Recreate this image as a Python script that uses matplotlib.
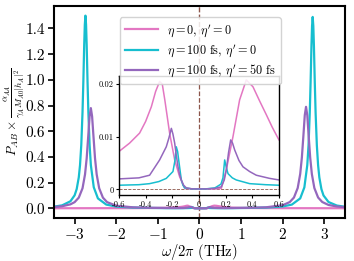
import numpy as np
import matplotlib
matplotlib.use("Agg")
import matplotlib.pyplot as plt

plt.rcParams['font.family'] = 'serif'
plt.rcParams['font.serif'] = ['cmr10']
plt.rcParams['mathtext.fontset'] = 'cm'
plt.rcParams['axes.formatter.use_mathtext'] = True

# --- data ---
pink_x = [-3.5, -3.0, -2.5, -2.0, -1.5, -1.0, -0.8, -0.6, -0.52, -0.445, -0.4, -0.357,
          -0.325, -0.295, -0.275, -0.256, -0.22, -0.182, -0.145, -0.107, -0.05, 0.0,
          0.05, 0.12, 0.168, 0.205, 0.255, 0.305, 0.355, 0.405, 0.455, 0.505, 0.55,
          0.6, 0.8, 1.0, 1.5, 2.0, 2.5, 3.0, 3.5]
pink_y = [0.0005, 0.0006, 0.0008, 0.0010, 0.0015, 0.0028, 0.0042, 0.0072, 0.0088,
          0.0107, 0.0129, 0.0157, 0.0186, 0.0205, 0.0200, 0.0170, 0.0107, 0.0056,
          0.0024, 0.0002, 0.0001, 0.0001, 0.0001, 0.0001, 0.0002, 0.0037, 0.0100,
          0.0170, 0.0208, 0.0195, 0.0168, 0.0142, 0.0118, 0.0094, 0.0050, 0.0032,
          0.0016, 0.0010, 0.0008, 0.0006, 0.0005]

cyan_x = [-3.5, -3.3, -3.1, -3.0, -2.95, -2.9, -2.87, -2.84, -2.81, -2.79, -2.77,
          -2.755, -2.74, -2.725, -2.71, -2.69, -2.67, -2.64, -2.61, -2.54, -2.44,
          -2.24, -2.0, -1.6, -1.2, -0.8, -0.6, -0.45, -0.37, -0.3, -0.245, -0.195,
          -0.18, -0.17, -0.16, -0.152, -0.14, -0.132, -0.12, -0.107, -0.05, 0.0,
          0.05, 0.12, 0.165, 0.18, 0.193, 0.205, 0.218, 0.25, 0.28, 0.38, 0.5, 0.6,
          0.8, 1.2, 1.6, 2.0, 2.22, 2.42, 2.52, 2.59, 2.62, 2.65, 2.67, 2.69, 2.705,
          2.72, 2.735, 2.75, 2.77, 2.79, 2.82, 2.85, 2.88, 2.93, 2.98, 3.1, 3.3, 3.5]
cyan_y = [0.0126, 0.023, 0.055, 0.101, 0.15, 0.241, 0.337, 0.493, 0.75, 0.99, 1.27,
          1.43, 1.50, 1.43, 1.27, 0.99, 0.75, 0.493, 0.337, 0.164, 0.077,
          0.029, 0.0133, 0.0057, 0.0030, 0.0013, 0.0008, 0.0009, 0.0011, 0.0015,
          0.0021, 0.0034, 0.0055, 0.0081, 0.0072, 0.0056, 0.0033, 0.0018, 0.0008,
          0.0003, 0.0001, 0.0001, 0.0001, 0.0003, 0.0010, 0.0022, 0.0056, 0.0042,
          0.0030, 0.0022, 0.0018, 0.0011, 0.0009, 0.0008, 0.0013, 0.0030, 0.0057,
          0.014, 0.029, 0.077, 0.163, 0.336, 0.49, 0.745, 0.985, 1.26, 1.42, 1.49,
          1.42, 1.26, 0.985, 0.745, 0.49, 0.336, 0.24, 0.149, 0.10, 0.049, 0.0214,
          0.0119]

purple_x = [-3.5, -3.3, -3.1, -3.0, -2.9, -2.81, -2.75, -2.71, -2.67, -2.64, -2.61,
            -2.58, -2.55, -2.51, -2.47, -2.41, -2.32, -2.22, -2.0, -1.6, -1.2, -0.8,
            -0.6, -0.45, -0.37, -0.295, -0.245, -0.225, -0.207, -0.195, -0.182, -0.17,
            -0.157, -0.145, -0.132, -0.115, -0.095, -0.05, 0.0, 0.05, 0.12, 0.168,
            0.19, 0.205, 0.222, 0.238, 0.252, 0.268, 0.3, 0.33, 0.38, 0.43, 0.53, 0.6,
            0.8, 1.2, 1.6, 2.0, 2.17, 2.27, 2.36, 2.42, 2.46, 2.5, 2.53, 2.56, 2.59,
            2.62, 2.66, 2.7, 2.76, 2.85, 2.95, 3.1, 3.3, 3.5]
purple_y = [0.0097, 0.016, 0.031, 0.048, 0.083, 0.156, 0.264, 0.39, 0.574, 0.716,
            0.78, 0.716, 0.574, 0.39, 0.264, 0.156, 0.083, 0.048, 0.0204, 0.0076,
            0.0039, 0.0024, 0.0020, 0.0022, 0.0027, 0.0056, 0.0081, 0.0098, 0.0116,
            0.0105, 0.0088, 0.0065, 0.0043, 0.0028, 0.0018, 0.0008, 0.0003, 0.0001,
            0.0001, 0.0001, 0.0002, 0.0005, 0.0018, 0.0037, 0.0070, 0.0094, 0.0088,
            0.0075, 0.0055, 0.0043, 0.0034, 0.0027, 0.0021, 0.0018, 0.0024, 0.0040,
            0.0078, 0.0244, 0.0487, 0.084, 0.158, 0.267, 0.395, 0.58, 0.725, 0.79,
            0.725, 0.58, 0.395, 0.267, 0.158, 0.084, 0.049, 0.026, 0.0142, 0.0088]

labels = [r'$\eta=0$, $\eta^\prime=0$',
          r'$\eta=100$ fs, $\eta^\prime=0$',
          r'$\eta=100$ fs, $\eta^\prime=50$ fs']
colors = ['#e377c2', '#17becf', '#9467bd']
series = [(pink_x, pink_y), (cyan_x, cyan_y), (purple_x, purple_y)]

main_yticks = [0.0, 0.2, 0.4, 0.6, 0.8, 1.0, 1.2, 1.4]
main_xticks = [-3, -2, -1, 0, 1, 2, 3]
inset_xticks = [-0.6, -0.4, -0.2, 0.0, 0.2, 0.4, 0.6]
inset_xlabels = ['-0.6', '-0.4', '-0.2', '0', '0.2', '0.4', '0.6']
inset_yticks = [0.0, 0.01, 0.02]
inset_ylabels = ['0', '0.01', '0.02']

fig = plt.figure(figsize=(3.54, 2.61), dpi=100)
ax = fig.add_axes([0.152, 0.165, 0.823, 0.812])

handles = []
for (x, y), c, lab in zip(series, colors, labels):
    h, = ax.plot(x, y, color=c, lw=1.6, label=lab)
    handles.append(h)
ax.axvline(0, color='#8c564b', ls='--', lw=1.0, zorder=0)
ax.axhline(0, color='#8c564b', ls='--', lw=0.6, zorder=0)

ax.set_xlim(-3.5, 3.5)
ax.set_ylim(-0.075, 1.575)
ax.set_xticks(main_xticks)
ax.set_yticks(main_yticks)
ax.set_yticklabels(['%.1f' % v for v in main_yticks])
ax.tick_params(labelsize=11, width=1.2, length=4, pad=2.5)
for s in ax.spines.values():
    s.set_linewidth(1.5)
ax.set_xlabel(r'$\omega/2\pi$ (THz)', fontsize=10.5, labelpad=0)
ax.set_ylabel(r'$P_{AB}\times\frac{\alpha_{AA}}{\gamma_A M_{A0}|h_A|^2}$',
              fontsize=9.5, labelpad=0)
ax.yaxis.set_label_coords(-0.093, 0.5)

# inset
ins = fig.add_axes([0.336, 0.253, 0.452, 0.457])
for (x, y), c in zip(series, colors):
    ins.plot(x, y, color=c, lw=1.1)
ins.axvline(0, color='#8c564b', ls='--', lw=0.9, zorder=0)
ins.axhline(0, color='#8c564b', ls='--', lw=0.6, zorder=0)
ins.set_xlim(-0.6, 0.6)
ins.set_ylim(-0.00105, 0.0216)
ins.set_xticks(inset_xticks)
ins.set_xticklabels(inset_xlabels)
ins.set_yticks(inset_yticks)
ins.set_yticklabels(inset_ylabels)
ins.tick_params(labelsize=6, length=2.5, width=0.8, pad=1.5)
for s in ins.spines.values():
    s.set_linewidth(1.0)

fig.legend(handles=handles, loc='upper left', bbox_to_anchor=(0.205, 0.975),
           bbox_transform=ax.transAxes, fontsize=8.8, handlelength=2.7,
           labelspacing=0.3, borderpad=0.4, framealpha=0.85)

fig.savefig('out.png', dpi=100)
